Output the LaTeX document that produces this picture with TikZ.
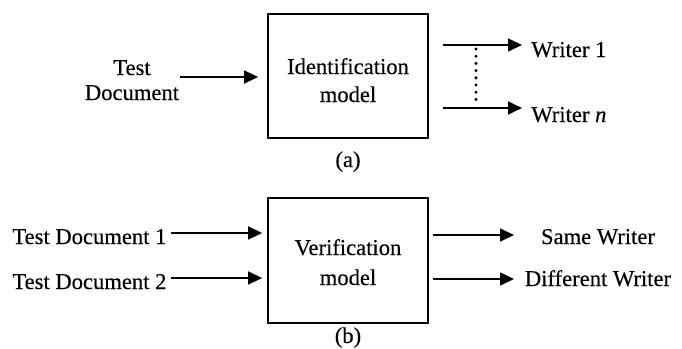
\documentclass[tikz,border=0pt]{standalone}
\usepackage{fontspec}
\setmainfont{Liberation Serif}[FakeBold=0.3]
\usetikzlibrary{arrows.meta}
\begin{document}
\begin{tikzpicture}[x=0.5pt,y=-0.5pt,
  font=\fontsize{11.3pt}{13pt}\selectfont,
  lbl/.style={inner sep=0pt,anchor=base},
  model/.style={draw,line width=0.9pt,minimum width=80pt,inner sep=0pt},
  flow/.style={-{Triangle[length=7pt,width=6.5pt]},line width=0.8pt},
  dotline/.style={line width=1.7pt,line cap=round,dash pattern=on 0pt off 3.6pt}]
\useasboundingbox (0,0) rectangle (682,349);

% (a) identification
\node[model,minimum height=62pt] (boxa) at (348,76) {};
\node[lbl] (ida1) at (348,74) {Identification};
\node[lbl] (ida2) at (348,102) {model};
\node[lbl] (capa) at (348,167) {(a)};
\node[lbl] (testa1) at (132,75) {Test};
\node[lbl] (testa2) at (132,100) {Document};
\node[lbl,anchor=base west] (w1) at (531,57) {Writer 1};
\node[lbl,anchor=base west] (wn) at (531,122) {Writer \textit{n}};

\coordinate (ina) at (180,77);
\coordinate (outa1) at (443,45);
\coordinate (outan) at (443,108);
\draw[flow,shorten >=4.5pt] (ina) -- (boxa.west |- ina);
\draw[flow,shorten >=4.5pt] (outa1) -- (w1.west |- outa1);
\draw[flow,shorten >=4.5pt] (outan) -- (wn.west |- outan);
\coordinate (dtop) at (476,49);
\coordinate (dbot) at (476,101);
\draw[dotline] (dtop) -- (dbot);

% (b) verification
\node[model,minimum height=62.5pt] (boxb) at (348,260.5) {};
\node[lbl] (ver1) at (348,255) {Verification};
\node[lbl] (ver2) at (348,285) {model};
\node[lbl] (capb) at (348,343) {(b)};
\node[lbl,anchor=base west] (td1) at (12,244) {Test Document 1};
\node[lbl,anchor=base west] (td2) at (12,289) {Test Document 2};
\node[lbl] (same) at (598,244) {Same Writer};
\node[lbl] (diff) at (598,286) {Different Writer};

\coordinate (inb1) at (171,233);
\coordinate (inb2) at (171,278);
\coordinate (outb1) at (433,235);
\coordinate (outb2) at (433,279);
\draw[flow,shorten >=2.5pt] (inb1) -- (boxb.west |- inb1);
\draw[flow,shorten >=2.5pt] (inb2) -- (boxb.west |- inb2);
\draw[flow] (outb1) -- (514,235);
\draw[flow] (outb2) -- (514,279);
\end{tikzpicture}
\end{document}
